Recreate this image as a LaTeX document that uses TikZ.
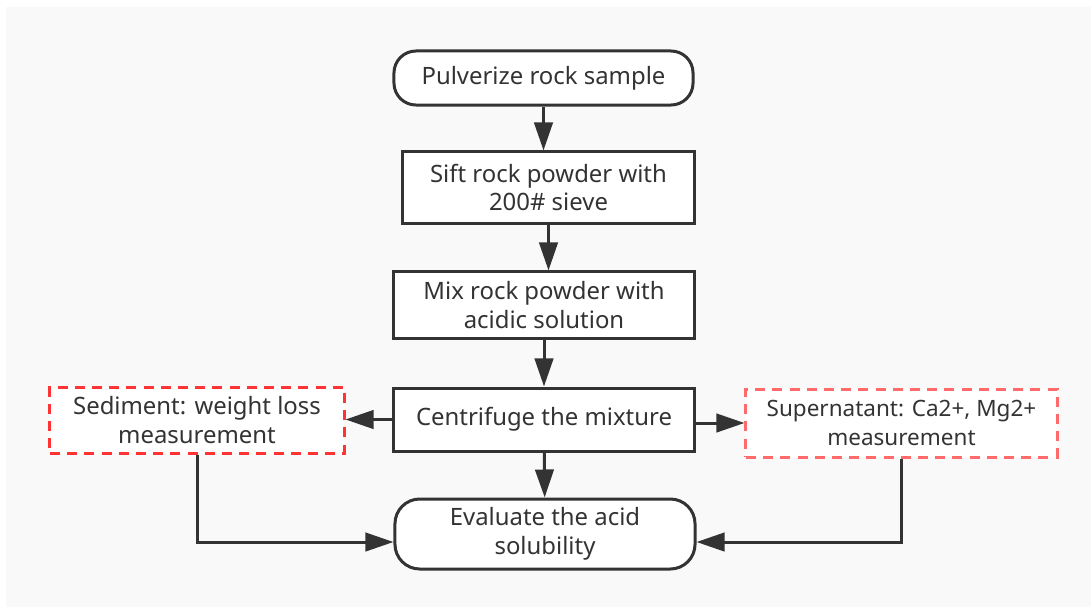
\documentclass[tikz,border=0pt]{standalone}
\usepackage{fontspec}
\setmainfont{Noto Sans}
\usetikzlibrary{arrows.meta}

\definecolor{inkgray}{HTML}{333333}
\definecolor{panelgray}{HTML}{F9F9F9}
\definecolor{sedred}{HTML}{FF3333}
\definecolor{suppink}{HTML}{FF6B6B}

\tikzset{
  stepbox/.style={draw=inkgray, fill=white, line width=0.075cm, minimum width=7.5cm,
    align=center, text=inkgray, inner sep=0pt, font=\fontsize{17}{20.5}\selectfont},
  termbox/.style={stepbox, rounded corners=0.55cm},
  notebox/.style={stepbox, dash pattern=on 0.25cm off 0.18cm},
  arr/.style={draw=inkgray, line width=0.075cm, -{Triangle[length=0.7cm, width=0.46cm]}},
}

\begin{document}
\begin{tikzpicture}[x=0.025cm, y=-0.025cm]
  % Page and panel
  \fill[white] (0,0) rectangle (1091,607);
  \fill[panelgray] (6,7) rectangle (1091,607);
  \useasboundingbox (0,0) rectangle (1091,607);

  % Main column
  \node[termbox, minimum width=7.475cm, minimum height=1.35cm] (pulv) at (543.5,78) {Pulverize rock sample};
  \node[stepbox, minimum width=7.275cm, minimum height=1.775cm] (sift) at (548.5,187.5) {Sift rock powder with\\200\# sieve};
  \node[stepbox, minimum height=1.65cm] (mix) at (544,305) {Mix rock powder with\\acidic solution};
  \node[stepbox, minimum height=1.575cm] (centr) at (544,419.5) {Centrifuge the mixture};
  \node[termbox, rounded corners=0.62cm, minimum height=1.75cm] (eval) at (545,534) {Evaluate the acid\\solubility};

  % Side measurements
  \node[notebox, draw=sedred, minimum width=7.35cm, minimum height=1.65cm] (sedi) at (197,420) {Sediment: weight loss\\measurement};
  \node[notebox, draw=suppink, minimum width=7.775cm, minimum height=1.7cm, font=\fontsize{16}{20}\selectfont] (super) at (901.5,423) {Supernatant: Ca2+, Mg2+\\measurement};

  % Draw flow
  \draw[arr] (pulv) -- (pulv |- sift.north);
  \draw[arr] (sift) -- (sift |- mix.north);
  \draw[arr] (mix) -- (mix |- centr.north);
  \draw[arr] (centr) -- (eval);
  \draw[arr] (centr) -- (centr -| sedi.east);
  \draw[arr] (centr.east |- super) -- (super.west);

  % Back to evaluation
  \draw[arr] (sedi) |- ([yshift=-0.2cm]eval.west);
  \draw[arr] (super) |- ([yshift=-0.2cm]eval.east);
\end{tikzpicture}
\end{document}
